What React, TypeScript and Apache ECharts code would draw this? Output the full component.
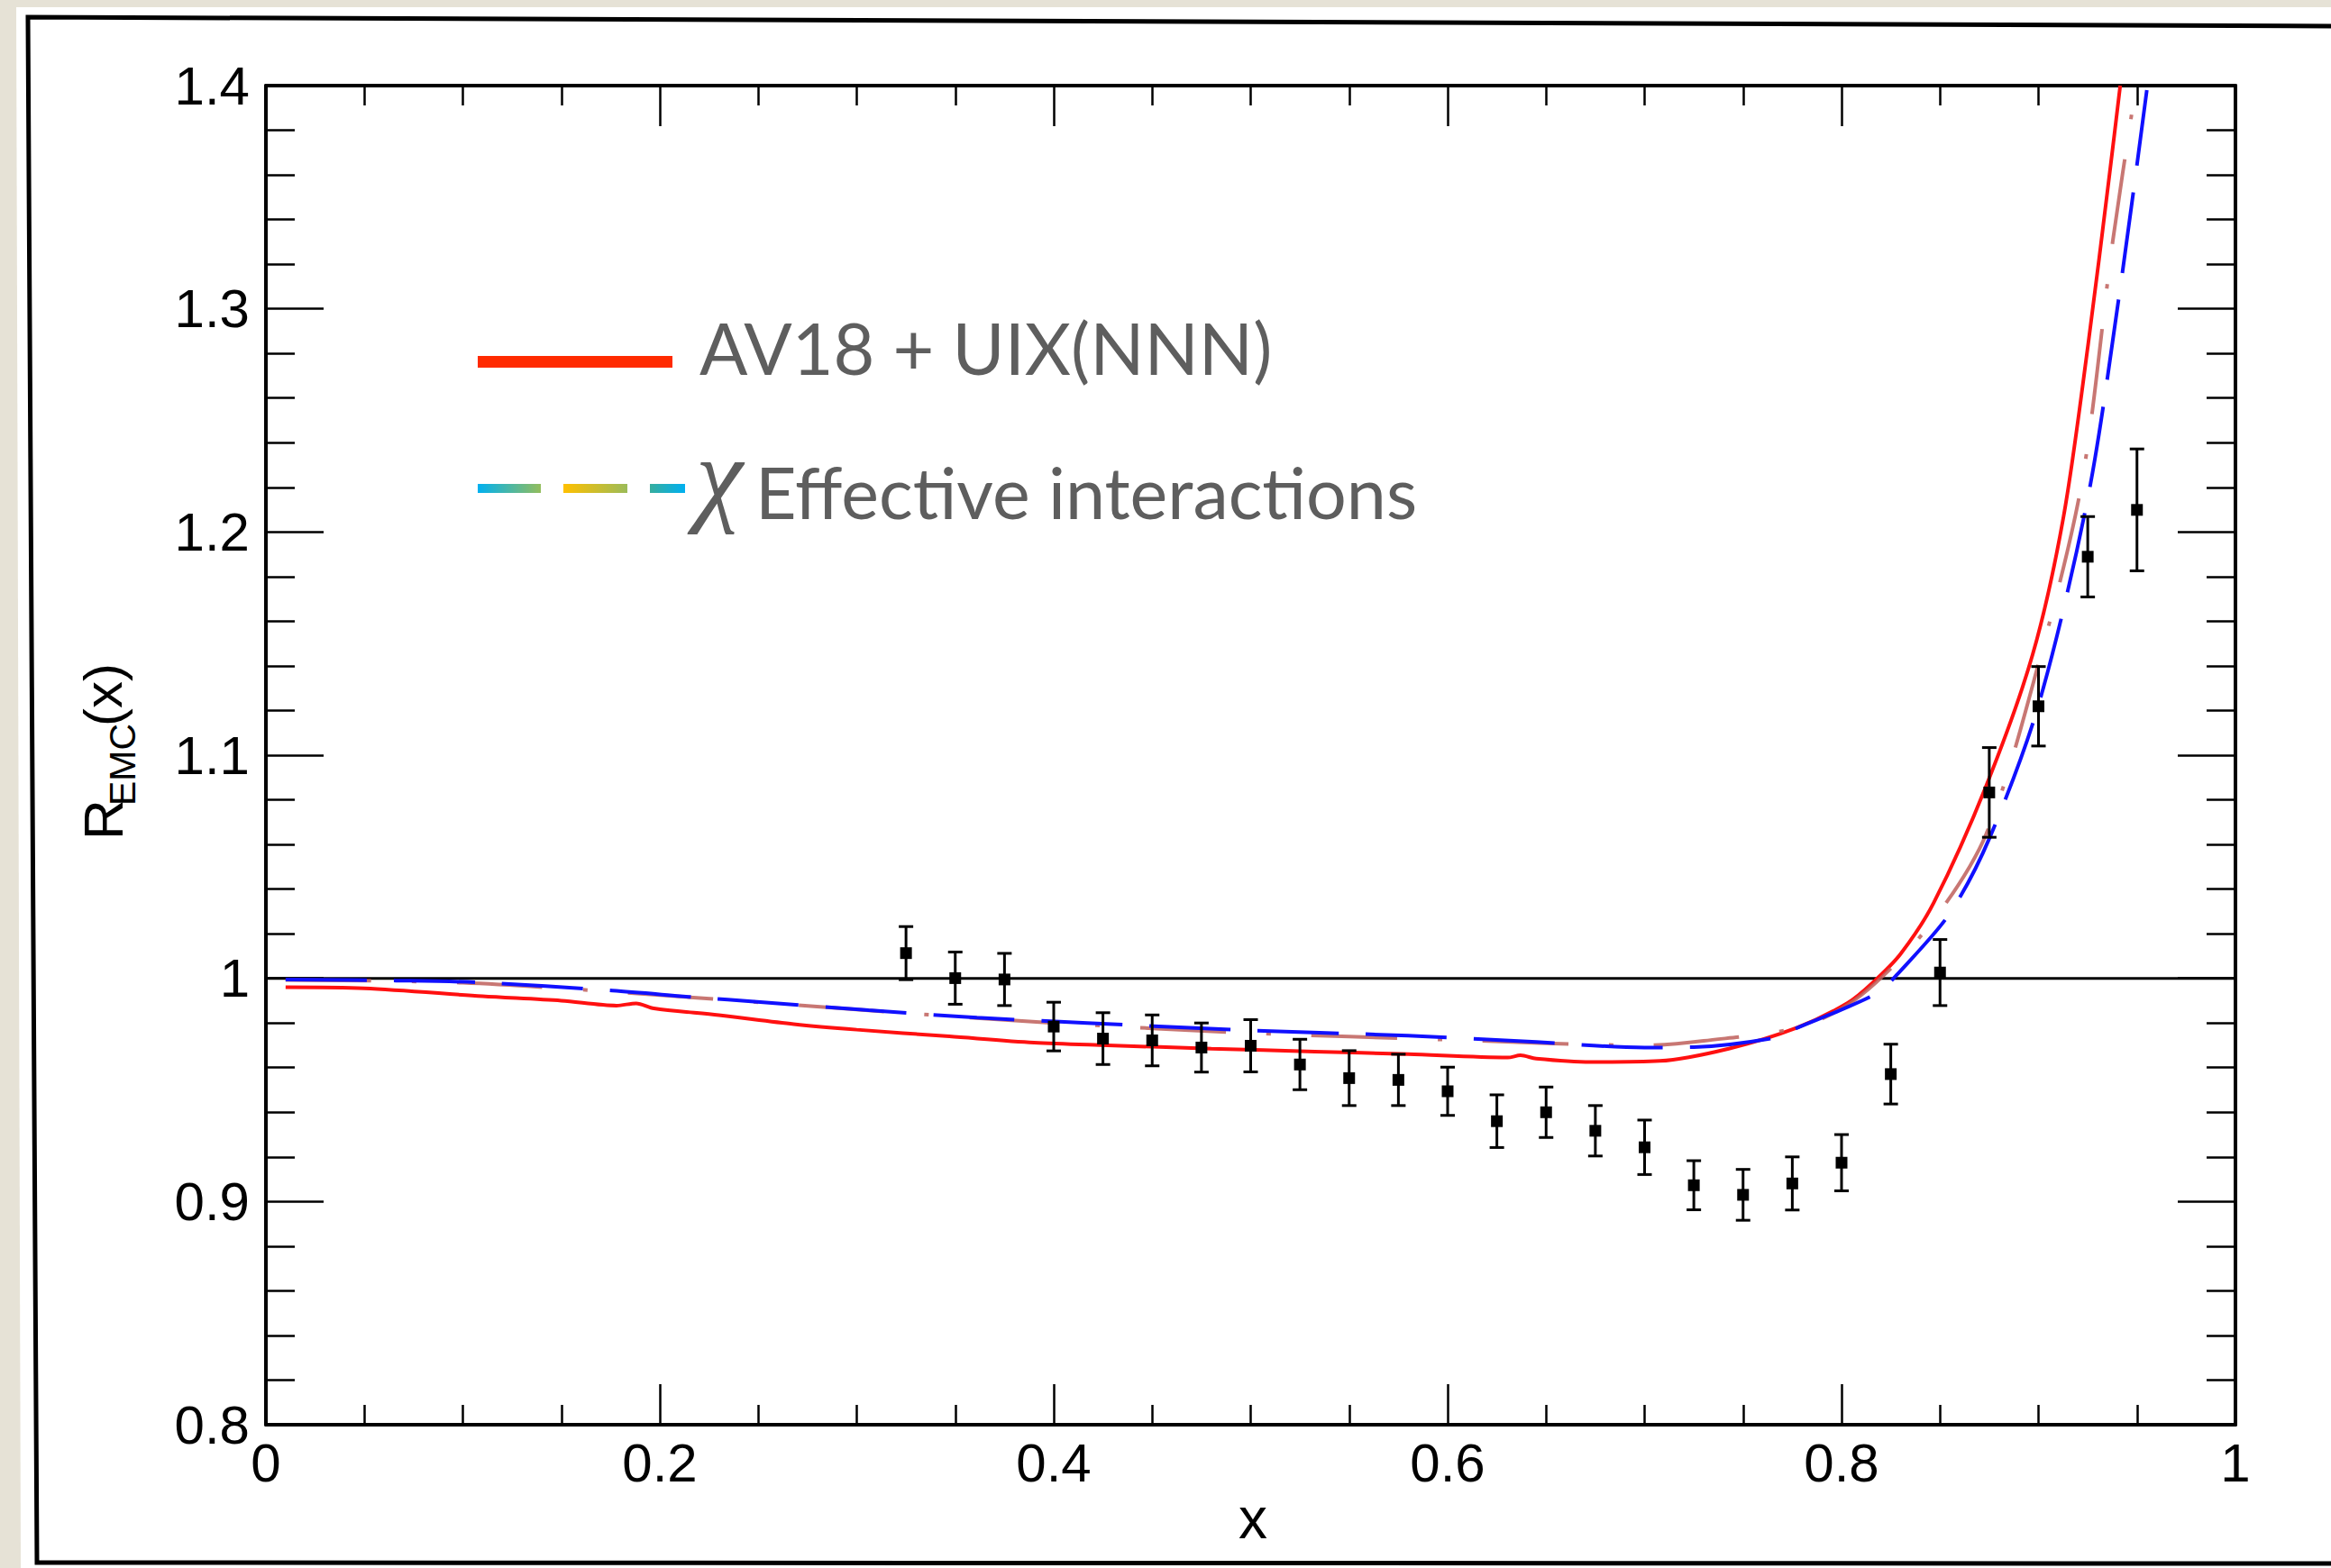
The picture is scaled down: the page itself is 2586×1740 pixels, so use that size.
import React, { useEffect, useRef } from "react";
import * as echarts from "echarts";

// Experimental data points (x, R_EMC, error)
const dataX = [0.325, 0.35, 0.375, 0.4, 0.425, 0.45, 0.475, 0.5, 0.525, 0.55, 0.575, 0.6, 0.625, 0.65, 0.675, 0.7, 0.725, 0.75, 0.775, 0.8, 0.825, 0.85, 0.875, 0.9, 0.925, 0.95];
const dataY = [1.0113, 1.0001, 0.9995, 0.9784, 0.973, 0.9722, 0.969, 0.9698, 0.9614, 0.9553, 0.9545, 0.9494, 0.936, 0.94, 0.9317, 0.9243, 0.9073, 0.903, 0.9081, 0.9174, 0.9571, 1.0026, 1.0833, 1.1219, 1.1889, 1.2099];
const dataErr = [0.0119, 0.0117, 0.0117, 0.0109, 0.0116, 0.0114, 0.011, 0.0117, 0.0113, 0.0123, 0.0115, 0.0108, 0.0118, 0.0113, 0.0113, 0.0122, 0.011, 0.0114, 0.0119, 0.0126, 0.0134, 0.0148, 0.0201, 0.0178, 0.018, 0.0273];

// AV18 + UIX(NNN) curve
const redX = [0.01, 0.05, 0.11, 0.15, 0.178, 0.188, 0.197, 0.23, 0.268, 0.3, 0.347, 0.39, 0.4274, 0.48, 0.5325, 0.58, 0.6305, 0.637, 0.645, 0.6726, 0.7077, 0.7427, 0.7777, 0.8031, 0.8157, 0.83, 0.8469, 0.8735, 0.897, 0.9127, 0.9252, 0.9362, 0.9415];
const redY = [0.996, 0.9955, 0.992, 0.99, 0.9878, 0.9888, 0.9865, 0.9835, 0.9795, 0.977, 0.974, 0.9712, 0.97, 0.9685, 0.9672, 0.966, 0.9645, 0.9655, 0.964, 0.9625, 0.963, 0.9685, 0.978, 0.989, 0.998, 1.011, 1.034, 1.0864, 1.145, 1.2068, 1.284, 1.3612, 1.4];

// chiral effective interaction curves
const brownX = [0.01, 0.1, 0.2, 0.3, 0.4, 0.5, 0.6, 0.7, 0.73, 0.78, 0.81, 0.8454, 0.8735, 0.9003, 0.922, 0.9377, 0.9495];
const brownY = [0.9993, 0.998, 0.9925, 0.986, 0.98, 0.9755, 0.9725, 0.97, 0.972, 0.9785, 0.9925, 1.0246, 1.0648, 1.142, 1.2222, 1.3303, 1.3998];
const blueX = [0.01, 0.066, 0.108, 0.176, 0.218, 0.251, 0.306, 0.361, 0.417, 0.49, 0.58, 0.645, 0.7, 0.725, 0.767, 0.778, 0.8, 0.8187, 0.828, 0.8551, 0.8753, 0.9003, 0.9252, 0.9409, 0.955];
const blueY = [0.9995, 0.999, 0.9982, 0.9945, 0.9915, 0.9894, 0.9857, 0.9824, 0.98, 0.977, 0.9743, 0.9715, 0.969, 0.9692, 0.9735, 0.978, 0.986, 0.9938, 1.0015, 1.0293, 1.0632, 1.1234, 1.216, 1.3056, 1.398];

const refLineX = [0, 1];
const refLineY = [1, 1];

const legendLabels = ["AV18 + UIX(NNN)", "Effective interactions"];

export default function App() {
  const ref = useRef<HTMLDivElement>(null);
  useEffect(() => {
    const chart = echarts.init(ref.current!, null, { renderer: "svg" });
    const axisFont = "'Liberation Sans', Arial, sans-serif";
    const xCommon = {
      type: "value",
      min: 0,
      max: 1,
      interval: 0.2,
      axisLine: { show: true, onZero: false, lineStyle: { color: "#000", width: 4 } },
      axisTick: { show: true, inside: true, length: 45, lineStyle: { color: "#000", width: 2.5 } },
      minorTick: { show: true, splitNumber: 4, length: 22, lineStyle: { color: "#000", width: 2.5 } },
      splitLine: { show: false },
      minorSplitLine: { show: false },
    };
    const yCommon = {
      type: "value",
      min: 0.8,
      max: 1.4,
      interval: 0.1,
      axisLine: { show: true, onZero: false, lineStyle: { color: "#000", width: 4 } },
      axisTick: { show: true, inside: true, length: 64, lineStyle: { color: "#000", width: 2.5 } },
      minorTick: { show: true, splitNumber: 5, length: 32, lineStyle: { color: "#000", width: 2.5 } },
      splitLine: { show: false },
      minorSplitLine: { show: false },
    };
    const legendFont = "Lato, 'Open Sans', sans-serif";
    chart.setOption({
      animation: false,
      backgroundColor: "#ffffff",
      grid: { left: 295, right: 106, top: 95, bottom: 159, containLabel: false },
      xAxis: [
        {
          ...xCommon,
          position: "bottom",
          axisLabel: { show: true, fontSize: 60, color: "#000", margin: 12, fontFamily: axisFont, showMinLabel: true, showMaxLabel: true },
        },
        { ...xCommon, position: "top", axisLabel: { show: false } },
      ],
      yAxis: [
        {
          ...yCommon,
          position: "left",
          axisLabel: { show: true, fontSize: 60, color: "#000", margin: 18, fontFamily: axisFont, showMinLabel: true, showMaxLabel: true },
        },
        { ...yCommon, position: "right", axisLabel: { show: false } },
      ],
      graphic: [
        { type: "rect", z: 100, shape: { x: 0, y: 0, width: 2586, height: 8 }, style: { fill: "#e6e2d6" } },
        { type: "polygon", z: 100, shape: { points: [[0, 0], [18, 0], [23, 1740], [0, 1740]] }, style: { fill: "#e6e2d6" } },
        {
          type: "polyline",
          z: 100,
          shape: { points: [[2586, 29], [31, 19], [41, 1734], [2586, 1735]] },
          style: { stroke: "#000", lineWidth: 5, fill: null },
        },
        // legend
        { type: "rect", z: 100, shape: { x: 530, y: 395, width: 216, height: 13 }, style: { fill: "#ff2a00" } },
        {
          type: "text", z: 100, x: 776, y: 385,
          style: { text: legendLabels[0], fontSize: 79, fontFamily: legendFont, fill: "#5e5e5e", textAlign: "left", textVerticalAlign: "middle" },
        },
        {
          type: "rect", z: 100, shape: { x: 530, y: 537, width: 70, height: 10 },
          style: { fill: new echarts.graphic.LinearGradient(0, 0, 1, 0, [{ offset: 0, color: "#00b0f0" }, { offset: 1, color: "#93bd5c" }]) },
        },
        {
          type: "rect", z: 100, shape: { x: 625, y: 537, width: 71, height: 10 },
          style: { fill: new echarts.graphic.LinearGradient(0, 0, 1, 0, [{ offset: 0, color: "#ffc000" }, { offset: 1, color: "#9bbb59" }]) },
        },
        {
          type: "rect", z: 100, shape: { x: 721, y: 537, width: 39, height: 10 },
          style: { fill: new echarts.graphic.LinearGradient(0, 0, 1, 0, [{ offset: 0, color: "#36ad9e" }, { offset: 1, color: "#00b0f0" }]) },
        },
        {
          type: "text", z: 100, x: 772, y: 528,
          style: { text: "χ", fontSize: 118, fontStyle: "italic", fontFamily: "'Liberation Serif', 'DejaVu Serif', serif", fill: "#5e5e5e", textAlign: "left", textVerticalAlign: "middle" },
        },
        {
          type: "text", z: 100, x: 838, y: 545,
          style: { text: legendLabels[1], fontSize: 79, fontFamily: legendFont, fill: "#5e5e5e", textAlign: "left", textVerticalAlign: "middle" },
        },
        // x axis name
        {
          type: "text", z: 100, x: 1390, y: 1685,
          style: { text: "x", fontSize: 64, fontFamily: axisFont, fill: "#000", textAlign: "center", textVerticalAlign: "middle" },
        },
        // y axis name
        {
          type: "group", z: 100, x: 135, y: 932, rotation: Math.PI / 2,
          children: [
            { type: "text", x: 0, y: -21, style: { text: "R", fontSize: 62, fontFamily: axisFont, fill: "#000", textAlign: "left", textVerticalAlign: "middle" } },
            { type: "text", x: 38, y: 1, style: { text: "EMC", fontSize: 41, fontFamily: axisFont, fill: "#000", textAlign: "left", textVerticalAlign: "middle" } },
            { type: "text", x: 126, y: -21, style: { text: "(x)", fontSize: 60, fontFamily: axisFont, fill: "#000", textAlign: "left", textVerticalAlign: "middle" } },
          ],
        },
      ],
      series: [
        {
          type: "line",
          data: refLineX.map((x, i) => [x, refLineY[i]]),
          symbol: "none",
          lineStyle: { color: "#000", width: 3 },
          z: 1,
        },
        {
          type: "line",
          data: redX.map((x, i) => [x, redY[i]]),
          symbol: "none",
          smooth: 0.3,
          lineStyle: { color: "#ff1010", width: 4 },
          clip: true,
          z: 3,
        },
        {
          type: "line",
          data: brownX.map((x, i) => [x, brownY[i]]),
          symbol: "none",
          smooth: 0.3,
          lineStyle: { color: "rgba(190,95,90,0.85)", width: 4, type: [95, 45, 5, 45] },
          clip: true,
          z: 3,
        },
        {
          type: "line",
          data: blueX.map((x, i) => [x, blueY[i]]),
          symbol: "none",
          smooth: 0.3,
          lineStyle: { color: "#1010ff", width: 4, type: [90, 30] },
          clip: true,
          z: 4,
        },
        {
          type: "custom",
          data: dataX.map((x, i) => [x, dataY[i], dataErr[i]]),
          encode: { x: 0, y: 1 },
          z: 5,
          renderItem: (params: any, api: any) => {
            const x = api.value(0);
            const y = api.value(1);
            const e = api.value(2);
            const c = api.coord([x, y]);
            const lo = api.coord([x, y - e]);
            const hi = api.coord([x, y + e]);
            const cap = 8;
            const st = { stroke: "#000", lineWidth: 3 };
            return {
              type: "group",
              children: [
                { type: "line", shape: { x1: c[0], y1: hi[1], x2: c[0], y2: lo[1] }, style: st },
                { type: "line", shape: { x1: c[0] - cap, y1: hi[1], x2: c[0] + cap, y2: hi[1] }, style: st },
                { type: "line", shape: { x1: c[0] - cap, y1: lo[1], x2: c[0] + cap, y2: lo[1] }, style: st },
                { type: "rect", shape: { x: c[0] - 6.5, y: c[1] - 6.5, width: 13, height: 13 }, style: { fill: "#000" } },
              ],
            };
          },
        },
      ],
    });
    return () => chart.dispose();
  }, []);
  return <div ref={ref} style={{ position: "fixed", left: 0, top: 0, width: 2586, height: 1740 }} />;
}
